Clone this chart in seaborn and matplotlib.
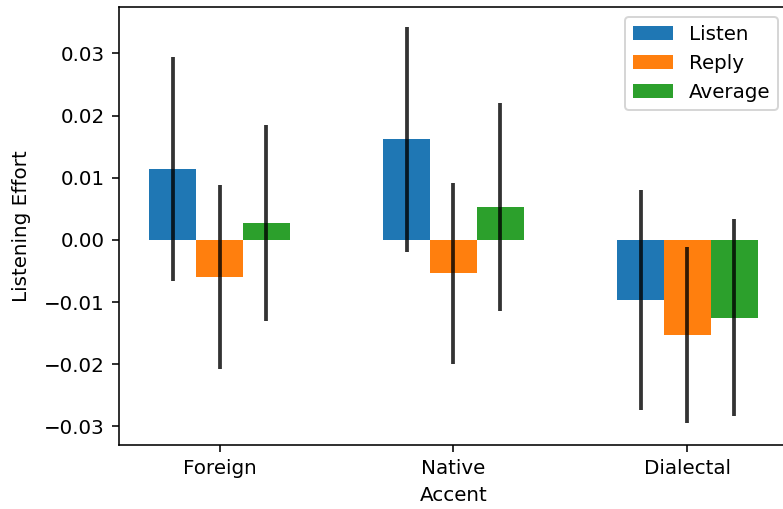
import matplotlib
matplotlib.use("Agg")
import matplotlib.pyplot as plt
import numpy as np
import pandas as pd
import seaborn as sns

# Mean listening effort per accent and task, with symmetric error half-widths
accents = ["Foreign", "Native", "Dialectal"]
tasks = ["Listen", "Reply", "Average"]
listen_mean = [0.0114, 0.0162, -0.0096]
reply_mean = [-0.0060, -0.0054, -0.0153]
average_mean = [0.0027, 0.0053, -0.0125]
listen_err = [0.0180, 0.0181, 0.0177]
reply_err = [0.0148, 0.0145, 0.0142]
average_err = [0.0158, 0.0167, 0.0158]

colors = ["#1f77b4", "#ff7f0e", "#2ca02c"]
yticks = [-0.03, -0.02, -0.01, 0.00, 0.01, 0.02, 0.03]

df = pd.DataFrame({
    "Accent": accents * 3,
    "Task": sum([[t] * 3 for t in tasks], []),
    "Effort": listen_mean + reply_mean + average_mean,
    "Err": listen_err + reply_err + average_err,
})

dpi = 143
fig = plt.figure(figsize=(783 / dpi, 509 / dpi), dpi=dpi)
ax = fig.add_axes([119 / 783, 64 / 509, 669 / 783, 437.5 / 509])

sns.barplot(data=df, x="Accent", y="Effort", hue="Task", order=accents,
            hue_order=tasks, palette=colors, saturation=1, width=0.6,
            errorbar=None, linewidth=0, ax=ax)

# Error bars centred on each drawn bar
for container, task in zip(ax.containers, tasks):
    sub = df[df["Task"] == task].set_index("Accent").loc[accents]
    xs = [p.get_x() + p.get_width() / 2 for p in container.patches]
    ax.vlines(xs, sub["Effort"] - sub["Err"], sub["Effort"] + sub["Err"],
              color="black", alpha=0.8, linewidth=1.9, zorder=3)

ax.set_xlim(-0.43, 2.43)
ax.set_ylim(-0.0330, 0.0374)
ax.set_yticks(yticks)
ax.set_yticklabels([f"{v:.2f}".replace("-", "\u2212") for v in yticks])
ax.set_xlabel("Accent")
ax.set_ylabel("Listening Effort", labelpad=6.5)
ax.legend(loc="upper right", fontsize=10)

fig.savefig("out.png", dpi=dpi)
